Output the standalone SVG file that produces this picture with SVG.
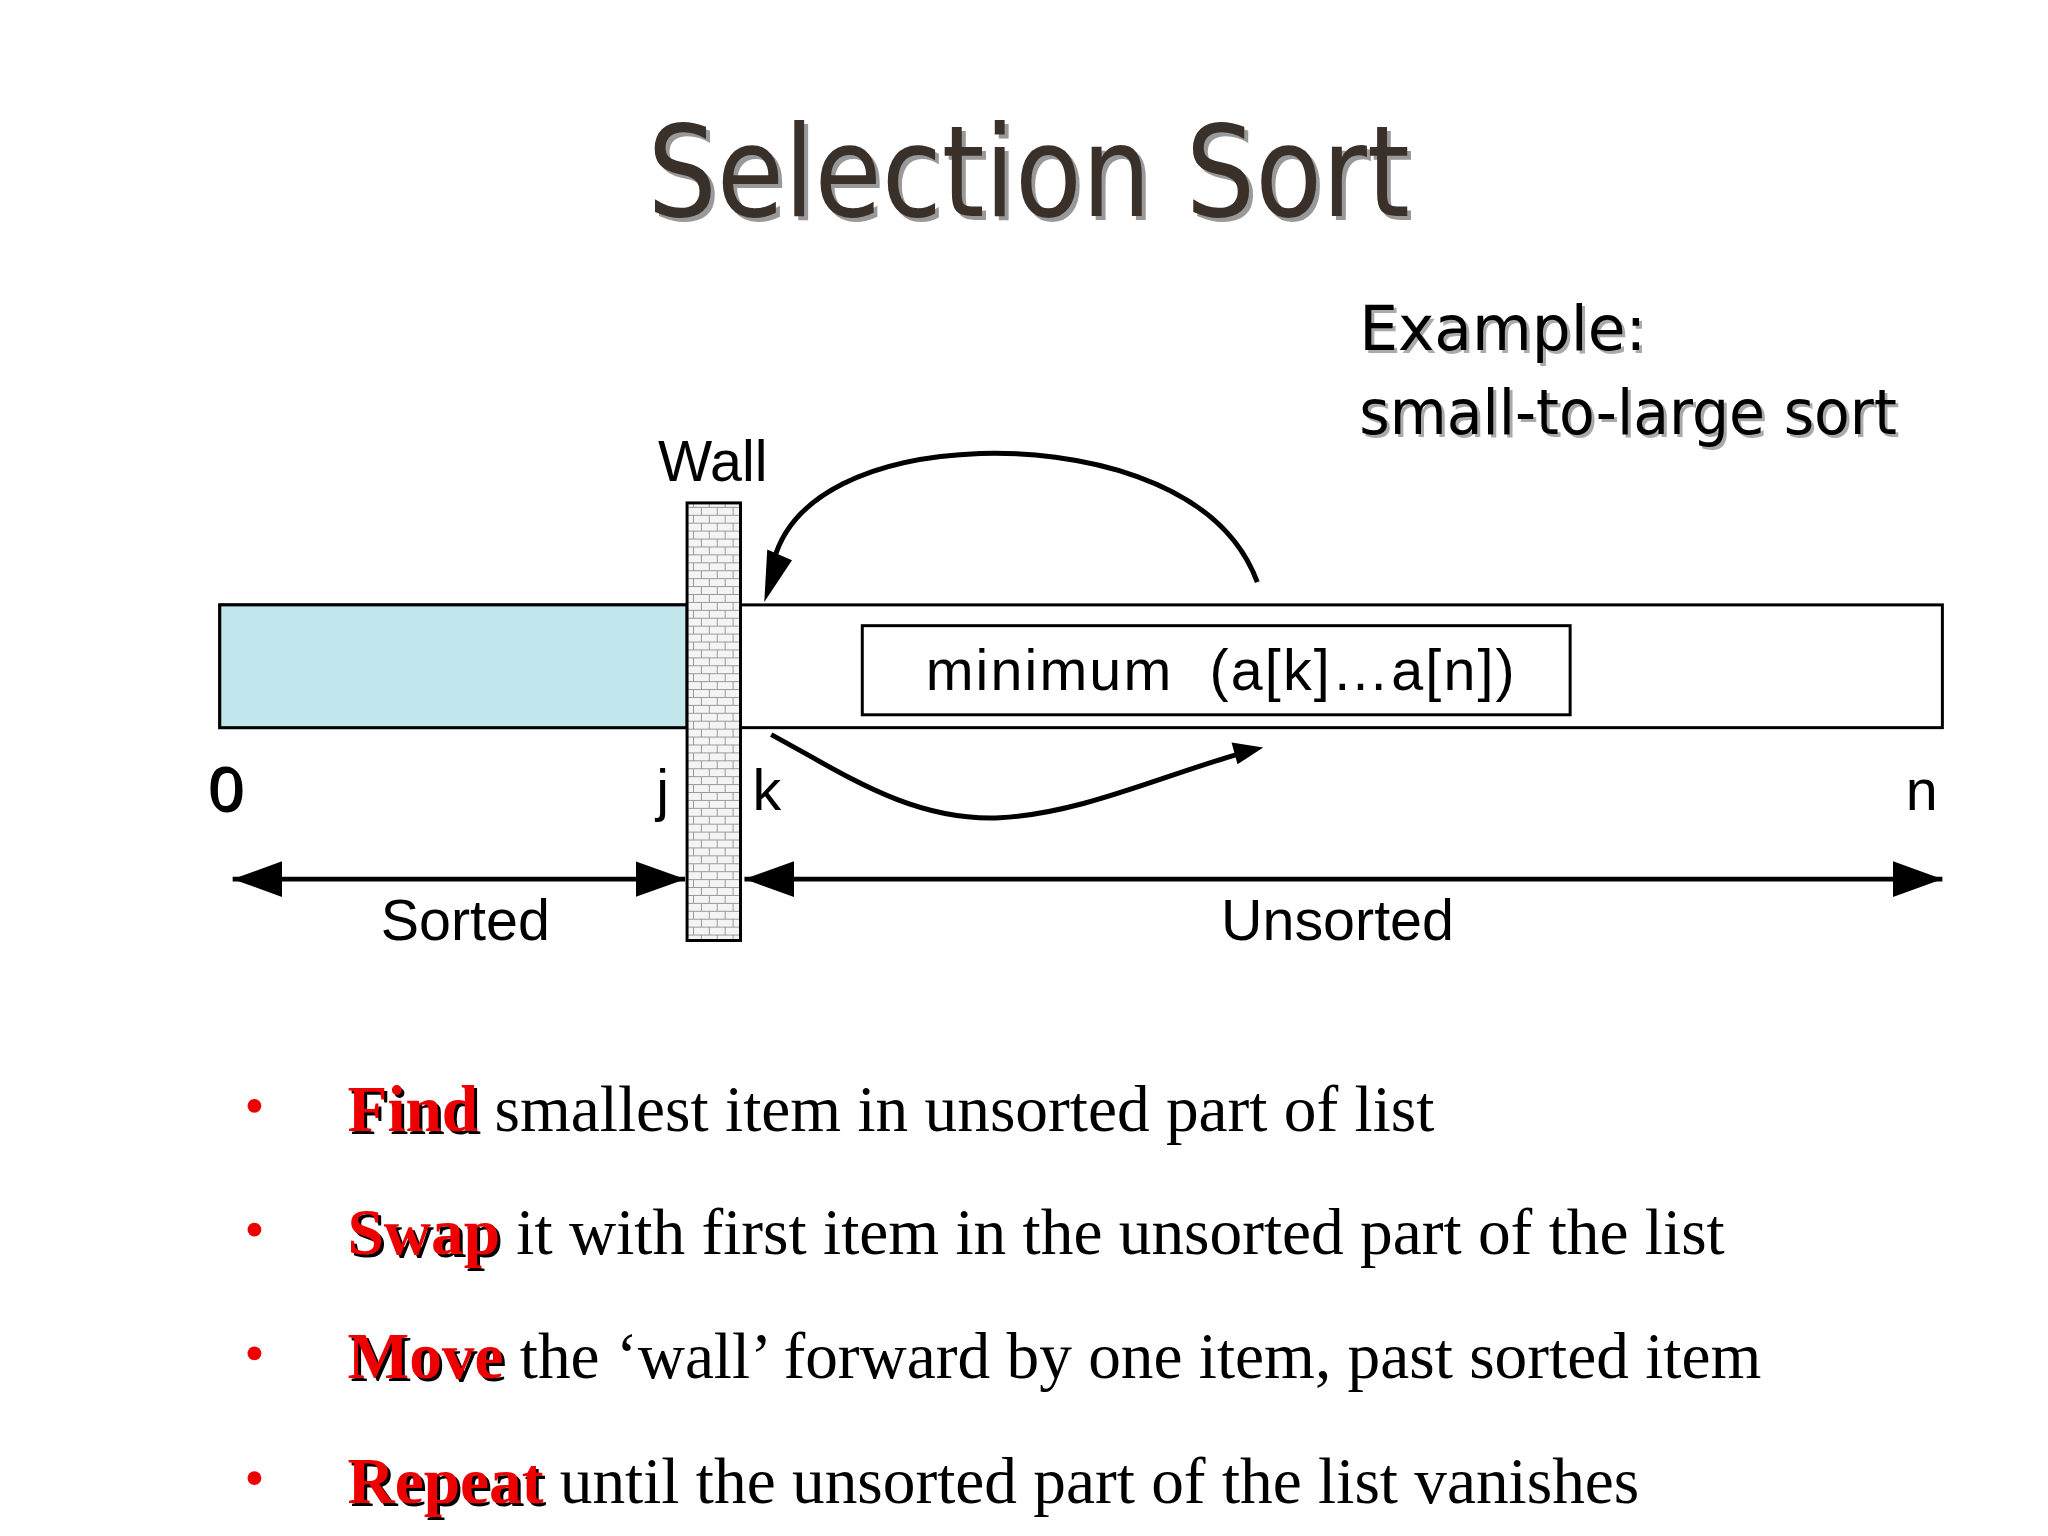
<svg xmlns="http://www.w3.org/2000/svg" width="2048" height="1536" viewBox="0 0 2048 1536">
<style>
.s{font-family:"Liberation Sans",Arial,sans-serif;fill:#000}
.t{font-family:"DejaVu Sans",Verdana,sans-serif}
.b{font-family:"Liberation Serif","Times New Roman",serif;font-size:66px;fill:#000}
.r{fill:#e00;font-weight:bold}
.ln{stroke:#000;stroke-width:5;fill:none}
</style>
<defs>
<pattern id="brick" width="16" height="16" patternUnits="userSpaceOnUse">
<rect width="16" height="16" fill="#f4f4f4"/>
<path d="M0 0.5H16M0 8.5H16M4.5 0V8M12.5 8V16" stroke="#999" stroke-width="1" fill="none"/>
</pattern>
<marker id="big" viewBox="0 0 10 10" refX="10" refY="5" markerWidth="50" markerHeight="36" orient="auto-start-reverse" markerUnits="userSpaceOnUse" preserveAspectRatio="none">
<path d="M0 0L10 5L0 10z" fill="#000"/>
</marker>
</defs>
<rect width="2048" height="1536" fill="#fff"/>
<g transform="scale(0.99)">
<g id="title">
<text x="1043" y="222" text-anchor="middle" class="t" font-size="128" fill="#999" textLength="770" lengthAdjust="spacingAndGlyphs">Selection Sort</text>
<text x="1039" y="218" text-anchor="middle" class="t" font-size="128" fill="#3a302a" textLength="770" lengthAdjust="spacingAndGlyphs">Selection Sort</text>
</g>
<g id="example">
<text x="1376" y="357" class="t" font-size="62" fill="#aaa">Example:</text>
<text x="1373" y="354" class="t" font-size="62" fill="#000">Example:</text>
<text x="1376" y="441" class="t" font-size="62" fill="#aaa" textLength="543" lengthAdjust="spacingAndGlyphs">small-to-large sort</text>
<text x="1373" y="438" class="t" font-size="62" fill="#000" textLength="543" lengthAdjust="spacingAndGlyphs">small-to-large sort</text>
</g>
<g id="array">
<rect x="222" y="611" width="1740" height="124" fill="#fff" stroke="#000" stroke-width="3"/>
<rect x="222" y="611" width="472" height="124" fill="#c1e6ec" stroke="#000" stroke-width="3"/>
</g>
<g id="minbox">
<rect x="871" y="632" width="715" height="90" fill="#fff" stroke="#000" stroke-width="3"/>
<text x="935" y="697" class="s" font-size="58" textLength="595" lengthAdjust="spacing" xml:space="preserve">minimum  (a[k]…a[n])</text>
</g>
<g id="wall">
<rect x="694" y="508" width="54" height="442" fill="url(#brick)" stroke="#000" stroke-width="3"/>
<text x="720" y="486" text-anchor="middle" class="s" font-size="58">Wall</text>
</g>
<g id="labels">
<text x="212" y="820" class="s" font-size="64" fill="#bbb">0</text>
<text x="210" y="818" class="s" font-size="64">0</text>
<text x="663" y="818" class="s" font-size="58">j</text>
<text x="760" y="818" class="s" font-size="58">k</text>
<text x="1925" y="818" class="s" font-size="58">n</text>
<text x="470" y="950" text-anchor="middle" class="s" font-size="58">Sorted</text>
<text x="1351" y="950" text-anchor="middle" class="s" font-size="58">Unsorted</text>
</g>
<g id="connectors">
<line x1="235" y1="888" x2="692" y2="888" class="ln" stroke-width="6" marker-start="url(#big)" marker-end="url(#big)"/>
<line x1="752" y1="888" x2="1962" y2="888" class="ln" stroke-width="6" marker-start="url(#big)" marker-end="url(#big)"/>
<path d="M1270 588C1230 480 1080 455 990 458C880 462 800 500 782 565" class="ln" stroke-width="5"/>
<path d="M772 608L775 555L800 566z" fill="#000"/>
<path d="M779 742C850 780 920 830 1010 826C1090 822 1170 785 1250 762" class="ln" stroke-width="4"/>
<path d="M1276 755L1244 750L1250 772z" fill="#000"/>
</g>
<g id="bullets">
<g fill="#e00">
<circle cx="257" cy="1117" r="7"/><circle cx="257" cy="1242" r="7"/><circle cx="257" cy="1367" r="7"/><circle cx="257" cy="1493" r="7"/>
</g>
<text x="354" y="1145" class="b" fill="#666"><tspan font-weight="bold">Find</tspan></text>
<text x="351" y="1142" class="b"><tspan class="r">Find</tspan> smallest item in unsorted part of list</text>
<text x="354" y="1270" class="b" fill="#666"><tspan font-weight="bold">Swap</tspan></text>
<text x="351" y="1267" class="b"><tspan class="r">Swap</tspan> it with first item in the unsorted part of the list</text>
<text x="354" y="1395" class="b" fill="#666"><tspan font-weight="bold">Move</tspan></text>
<text x="351" y="1392" class="b"><tspan class="r">Move</tspan> the ‘wall’ forward by one item, past sorted item</text>
<text x="354" y="1521" class="b" fill="#666"><tspan font-weight="bold">Repeat</tspan></text>
<text x="351" y="1518" class="b"><tspan class="r">Repeat</tspan> until the unsorted part of the list vanishes</text>
</g>
</g>
</svg>
